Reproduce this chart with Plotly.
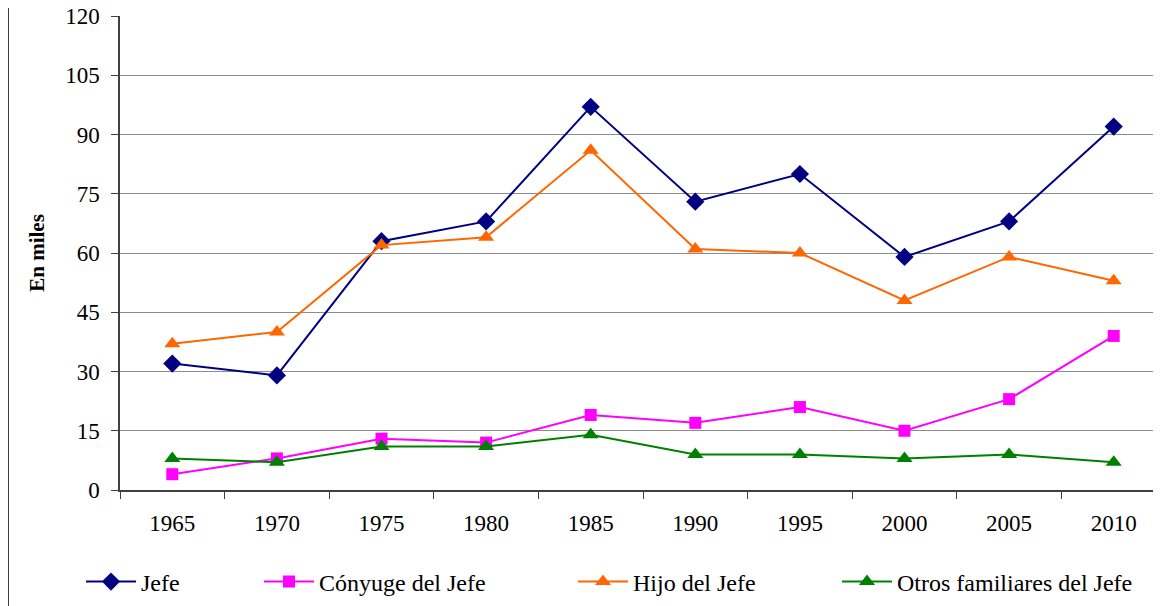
import plotly.graph_objects as go

years = ["1965", "1970", "1975", "1980", "1985", "1990", "1995", "2000", "2005", "2010"]
jefe = [32, 29, 63, 68, 97, 73, 80, 59, 68, 92]
conyuge = [4, 8, 13, 12, 19, 17, 21, 15, 23, 39]
hijo = [37, 40, 62, 64, 86, 61, 60, 48, 59, 53]
otros = [8, 7, 11, 11, 14, 9, 9, 8, 9, 7]
y_ticks = [0, 15, 30, 45, 60, 75, 90, 105, 120]

series = [
    ("Jefe", jefe, "#000080", "diamond", 14),
    ("Cónyuge del Jefe", conyuge, "#FF00FF", "square", 12),
    ("Hijo del Jefe", hijo, "#FF6600", "triangle-up", 14),
    ("Otros familiares del Jefe", otros, "#008000", "triangle-up", 14),
]

FONT = "Liberation Serif, Times New Roman, serif"

# page body has an 8px margin; compensate so plot area sits at x 120..(cut), y 16..490
W, H = 1161, 606
L, R, T, B = 112, 0, 8, 124
plot_w = W - L - R
plot_h = H - T - B
cat_w = 104.6
xmax = -0.5 + plot_w / cat_w

legend_names = ["legend", "legend2", "legend3", "legend4"]
legend_starts = [81, 259, 573, 837]  # page x of legend item boxes

fig = go.Figure()
for (name, vals, col, sym, sz), lg in zip(series, legend_names):
    fig.add_trace(go.Scatter(
        x=years, y=vals, name=name, mode="lines+markers",
        line=dict(color=col, width=2),
        marker=dict(symbol=sym, size=sz, color=col),
        legend=lg,
    ))

leg_y = -(582 - 490) / plot_h
legend_common = dict(orientation="h", xanchor="left", y=leg_y, yanchor="middle",
                     font=dict(family=FONT, size=24, color="black"),
                     itemwidth=50, bgcolor="rgba(0,0,0,0)")
layout_legends = {}
for lg, xs in zip(legend_names, legend_starts):
    layout_legends[lg] = dict(x=(xs - 120) / plot_w, **legend_common)

fig.update_layout(
    width=W, height=H,
    margin=dict(l=L, r=R, t=T, b=B),
    paper_bgcolor="white", plot_bgcolor="white",
    font=dict(family=FONT, size=23, color="black"),
    showlegend=True,
    xaxis=dict(type="category", range=[-0.5, xmax], tickson="boundaries",
               ticks="outside", ticklen=7, tickcolor="#404040",
               showline=True, linecolor="#404040", linewidth=1.5,
               showgrid=False, tickfont=dict(family=FONT, size=23), ticklabelstandoff=12),
    yaxis=dict(range=[0, 120], tickvals=y_ticks,
               ticks="outside", ticklen=7, tickcolor="#404040",
               showline=True, linecolor="#404040", linewidth=1.5,
               showgrid=True, gridcolor="#8c8c8c", gridwidth=1,
               zeroline=False, tickfont=dict(family=FONT, size=23), ticklabelstandoff=7,
               ticklabeloverflow="allow", automargin=False,
               title=dict(text="<b>En miles</b>", font=dict(family=FONT, size=21), standoff=15)),
    **layout_legends,
)

fig.add_shape(type="line", xref="paper", yref="paper",
              x0=(0 - L) / plot_w, x1=(0 - L) / plot_w,
              y0=-(B) / plot_h, y1=1 + T / plot_h,
              line=dict(color="#404040", width=2))

fig.write_html("out.html")
